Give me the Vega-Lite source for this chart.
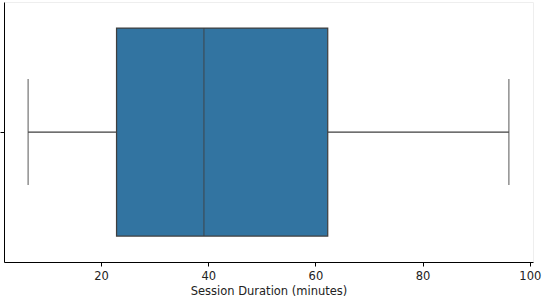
{
  "$schema": "https://vega.github.io/schema/vega-lite/v6.json",
  "width": 529,
  "height": 260,
  "autosize": "none",
  "padding": {"left": 4, "top": 2, "right": 9, "bottom": 38},
  "background": "white",
  "config": {
    "view": {"stroke": "#eeeeee", "strokeWidth": 1},
    "font": "DejaVu Sans",
    "axis": {"domainColor": "#000000", "domainWidth": 1, "tickColor": "#000000", "tickWidth": 1, "grid": false,
             "labelFont": "DejaVu Sans", "labelFontSize": 11.5, "labelColor": "#222222",
             "titleFont": "DejaVu Sans", "titleFontSize": 11.5, "titleFontWeight": "normal", "titleColor": "#222222"}
  },
  "data": {"values": [
    {"group": "", "min": 6.4, "q1": 22.9, "median": 39.2, "q3": 62.3, "max": 96.1}
  ]},
  "encoding": {
    "y": {"field": "group", "type": "nominal",
          "scale": {"paddingInner": 0, "paddingOuter": 0.125},
          "axis": {"title": null, "labels": false, "ticks": true, "tickSize": 4, "domain": true}}
  },
  "layer": [
    {"mark": {"type": "rule", "color": "#3f3f3f", "strokeWidth": 1.25},
     "encoding": {"x": {"field": "min", "type": "quantitative",
                        "scale": {"domain": [1.9, 100.6], "nice": false, "zero": false},
                        "axis": {"title": "Session Duration (minutes)", "values": [20, 40, 60, 80, 100], "tickSize": 4, "labelPadding": 4, "titlePadding": 4, "format": "d"}},
                  "x2": {"field": "q1"}}},
    {"mark": {"type": "rule", "color": "#3f3f3f", "strokeWidth": 1.25},
     "encoding": {"x": {"field": "q3", "type": "quantitative"}, "x2": {"field": "max"}}},
    {"mark": {"type": "bar", "fill": "#3274a1", "stroke": "#3f3f3f", "strokeWidth": 1.25},
     "encoding": {"x": {"field": "q1", "type": "quantitative"}, "x2": {"field": "q3"}}},
    {"mark": {"type": "tick", "color": "#3f3f3f", "thickness": 1.25, "size": 208, "orient": "vertical"},
     "encoding": {"x": {"field": "median", "type": "quantitative"}}},
    {"mark": {"type": "tick", "color": "#3f3f3f", "thickness": 1.25, "size": 106, "orient": "vertical"},
     "encoding": {"x": {"field": "min", "type": "quantitative"}}},
    {"mark": {"type": "tick", "color": "#3f3f3f", "thickness": 1.25, "size": 106, "orient": "vertical"},
     "encoding": {"x": {"field": "max", "type": "quantitative"}}}
  ]
}
